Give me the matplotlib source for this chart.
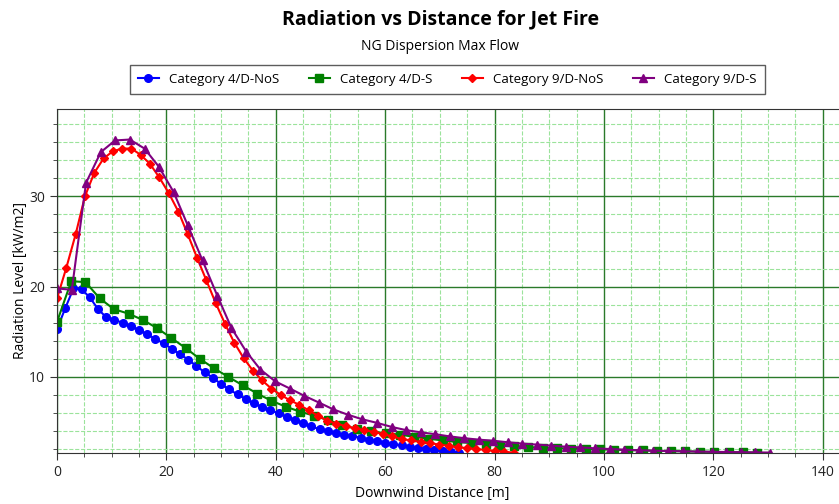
import matplotlib
matplotlib.use("Agg")
import matplotlib.pyplot as plt
from matplotlib.ticker import MultipleLocator

plt.rcParams['font.family'] = ['Open Sans', 'DejaVu Sans']

# Downwind distance [m] / radiation level [kW/m2] per weather category
dist_4_nos = [0.0, 1.5, 3.0, 4.5, 6.0, 7.5, 9.0, 10.5, 12.0, 13.5,
              15.0, 16.5, 18.0, 19.5, 21.0, 22.5, 24.0, 25.5, 27.0, 28.5,
              30.0, 31.5, 33.0, 34.5, 36.0, 37.5, 39.0, 40.5, 42.0, 43.5,
              45.0, 46.5, 48.0, 49.5, 51.0, 52.5, 54.0, 55.5, 57.0, 58.5,
              60.0, 61.5, 63.0, 64.5, 66.0, 67.5, 69.0, 70.5, 72.0, 73.5]
rad_4_nos = [15.3, 17.6, 19.8, 19.7, 18.8, 17.5, 16.6, 16.3, 16.0, 15.6,
             15.2, 14.7, 14.2, 13.7, 13.1, 12.5, 11.9, 11.2, 10.5, 9.9,
             9.2, 8.6, 8.05, 7.55, 7.05, 6.65, 6.3, 5.95, 5.6, 5.2,
             4.85, 4.5, 4.2, 3.95, 3.75, 3.6, 3.45, 3.25, 3.05, 2.9,
             2.7, 2.55, 2.4, 2.25, 2.1, 1.95, 1.85, 1.75, 1.67, 1.6]

dist_4_s = [0.0, 2.6, 5.2, 7.8, 10.4, 13.1, 15.7, 18.3, 20.9, 23.5,
            26.1, 28.7, 31.3, 34.0, 36.6, 39.2, 41.8, 44.4, 47.0, 49.6,
            52.2, 54.9, 57.5, 60.1, 62.7, 65.3, 67.9, 70.5, 73.1, 75.8,
            78.4, 81.0, 83.6, 86.2, 88.8, 91.4, 94.0, 96.7, 99.3, 101.9,
            104.5, 107.1, 109.7, 112.3, 114.9, 117.6, 120.2, 122.8, 125.4, 128.0]
rad_4_s = [16.1, 20.6, 20.5, 18.7, 17.5, 17.0, 16.3, 15.4, 14.3, 13.2,
           12.0, 10.95, 10.0, 9.05, 8.15, 7.35, 6.7, 6.15, 5.7, 5.2,
           4.65, 4.2, 3.95, 3.75, 3.6, 3.35, 3.15, 2.95, 2.78, 2.66,
           2.54, 2.38, 2.3, 2.22, 2.15, 2.1, 2.04, 2.0, 1.96, 1.92,
           1.88, 1.84, 1.8, 1.77, 1.74, 1.71, 1.68, 1.65, 1.63, 1.6]

dist_9_nos = [0.0, 1.7, 3.4, 5.1, 6.8, 8.5, 10.2, 11.9, 13.6, 15.3,
              17.0, 18.7, 20.4, 22.2, 23.9, 25.6, 27.3, 29.0, 30.7, 32.4,
              34.1, 35.8, 37.5, 39.2, 40.9, 42.6, 44.3, 46.0, 47.7, 49.4,
              51.1, 52.8, 54.5, 56.2, 57.9, 59.6, 61.3, 63.1, 64.8, 66.5,
              68.2, 69.9, 71.6, 73.3, 75.0, 76.7, 78.4, 80.1, 81.8, 83.5]
rad_9_nos = [18.7, 22.1, 25.8, 30.0, 32.6, 34.2, 35.0, 35.3, 35.3, 34.6,
             33.6, 32.1, 30.4, 28.3, 25.8, 23.2, 20.7, 18.2, 15.9, 13.8,
             12.1, 10.7, 9.6, 8.7, 8.0, 7.4, 6.9, 6.3, 5.7, 5.15,
             4.8, 4.55, 4.3, 4.1, 3.9, 3.65, 3.4, 3.1, 2.95, 2.8,
             2.65, 2.5, 2.35, 2.2, 2.1, 2.0, 1.9, 1.8, 1.7, 1.6]

dist_9_s = [0.0, 2.7, 5.3, 8.0, 10.6, 13.3, 16.0, 18.6, 21.3, 23.9,
            26.6, 29.3, 31.9, 34.6, 37.2, 39.9, 42.6, 45.2, 47.9, 50.5,
            53.2, 55.8, 58.5, 61.2, 63.8, 66.5, 69.1, 71.8, 74.5, 77.1,
            79.8, 82.4, 85.1, 87.8, 90.4, 93.1, 95.7, 98.4, 101.1, 103.7,
            106.4, 109.0, 111.7, 114.4, 117.0, 119.7, 122.3, 125.0, 127.6, 130.3]
rad_9_s = [19.8, 19.65, 31.5, 34.9, 36.2, 36.3, 35.3, 33.3, 30.5, 26.8,
           22.9, 19.0, 15.4, 12.8, 10.8, 9.5, 8.7, 7.9, 7.15, 6.4,
           5.8, 5.3, 4.9, 4.45, 4.1, 3.85, 3.65, 3.4, 3.2, 3.04,
           2.92, 2.75, 2.6, 2.49, 2.38, 2.25, 2.18, 2.08, 2.0, 1.93,
           1.86, 1.82, 1.78, 1.75, 1.72, 1.69, 1.67, 1.65, 1.63, 1.61]

series = [
    ('Category 4/D-NoS', dist_4_nos, rad_4_nos, '#0000ff', 'o', 5.5),
    ('Category 4/D-S', dist_4_s, rad_4_s, '#008000', 's', 5.5),
    ('Category 9/D-NoS', dist_9_nos, rad_9_nos, '#ff0000', 'D', 4.5),
    ('Category 9/D-S', dist_9_s, rad_9_s, '#800080', '^', 5.5),
]

fig = plt.figure(figsize=(8.39, 5.04), dpi=100)
ax = fig.add_axes([0.068, 0.101, 0.932, 0.683])

for name, xs, ys, col, mk, ms in series:
    ax.plot(xs, ys, color=col, marker=mk, markersize=ms, linewidth=1.5, label=name)

ax.set_xlim(0, 143)
ax.set_ylim(1.55, 39.7)
ax.xaxis.set_major_locator(MultipleLocator(20))
ax.xaxis.set_minor_locator(MultipleLocator(5))
ax.yaxis.set_major_locator(MultipleLocator(10))
ax.yaxis.set_minor_locator(MultipleLocator(2))
ax.grid(which='major', color='#2a7a2a', linewidth=1.0, linestyle='-')
ax.grid(which='minor', color='#9be39b', linewidth=0.8, linestyle='--')
ax.set_axisbelow(True)
ax.tick_params(which='major', direction='out', length=5, color='#333333',
               labelsize=10, labelcolor='#222222')
ax.tick_params(which='minor', direction='out', length=3, color='#333333')
for side in ['left', 'bottom', 'top']:
    ax.spines[side].set_color('#333333')
ax.spines['right'].set_visible(False)

ax.set_xlabel('Downwind Distance [m]', fontsize=10, labelpad=2)
ax.xaxis.set_label_coords(0.48, -0.095)
ax.set_ylabel('Radiation Level [kW/m2]', fontsize=10, labelpad=1)

fig.text(0.525, 0.962, 'Radiation vs Distance for Jet Fire', ha='center', va='center',
         fontsize=14, fontweight='bold')
fig.text(0.525, 0.908, 'NG Dispersion Max Flow', ha='center', va='center', fontsize=10)

leg = fig.legend(loc='center', bbox_to_anchor=(0.533, 0.843), ncol=4, fontsize=9.5,
                 frameon=True, fancybox=False, edgecolor='#333333',
                 handlelength=1.6, columnspacing=2.2, borderpad=0.6)
leg.get_frame().set_linewidth(1.0)

fig.savefig('out.png', dpi=100)
